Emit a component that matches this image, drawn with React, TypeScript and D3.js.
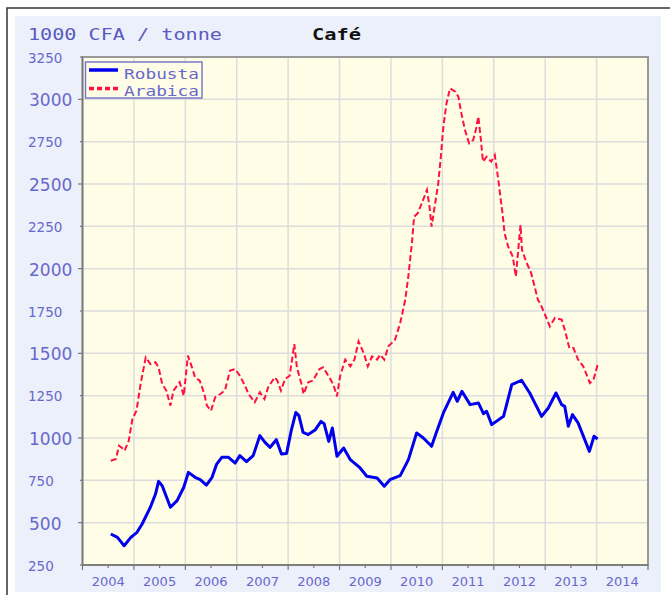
import React from "react";
import * as d3 from "d3";

const robustaT = [2004.55,2004.68,2004.81,2004.94,2005.06,2005.16,2005.32,2005.42,2005.48,2005.55,2005.71,2005.84,2005.97,2006.06,2006.19,2006.29,2006.41,2006.52,2006.61,2006.71,2006.84,2006.97,2007.06,2007.19,2007.32,2007.45,2007.55,2007.65,2007.77,2007.87,2007.97,2008.06,2008.15,2008.21,2008.29,2008.39,2008.53,2008.64,2008.70,2008.79,2008.86,2008.95,2009.08,2009.21,2009.40,2009.53,2009.73,2009.87,2009.98,2010.18,2010.34,2010.50,2010.63,2010.79,2010.89,2011.02,2011.21,2011.29,2011.38,2011.54,2011.70,2011.80,2011.86,2011.96,2012.19,2012.35,2012.54,2012.70,2012.93,2013.06,2013.21,2013.32,2013.38,2013.45,2013.53,2013.64,2013.86,2013.95,2014.02];
const robustaV = [433,413,364,413,443,492,591,669,744,718,591,630,709,797,768,754,722,768,846,886,886,852,896,860,896,1014,974,945,990,905,909,1043,1151,1132,1033,1020,1049,1098,1085,980,1059,892,941,872,823,774,764,715,754,778,872,1030,1000,951,1039,1148,1270,1217,1276,1197,1207,1144,1158,1079,1128,1315,1341,1266,1128,1177,1266,1197,1187,1069,1138,1089,921,1010,994];

const arabicaT = [2004.55,2004.65,2004.71,2004.77,2004.82,2004.90,2004.97,2005.05,2005.13,2005.23,2005.32,2005.42,2005.48,2005.55,2005.63,2005.71,2005.77,2005.89,2005.97,2006.05,2006.13,2006.19,2006.28,2006.37,2006.42,2006.50,2006.58,2006.68,2006.77,2006.87,2006.97,2007.06,2007.16,2007.23,2007.35,2007.45,2007.54,2007.61,2007.74,2007.79,2007.86,2007.94,2008.03,2008.12,2008.17,2008.26,2008.30,2008.39,2008.48,2008.61,2008.68,2008.79,2008.88,2008.95,2009.01,2009.11,2009.21,2009.29,2009.37,2009.47,2009.55,2009.63,2009.73,2009.79,2009.87,2009.95,2010.08,2010.18,2010.28,2010.34,2010.41,2010.45,2010.52,2010.60,2010.70,2010.75,2010.79,2010.86,2010.92,2010.97,2011.02,2011.08,2011.15,2011.25,2011.31,2011.37,2011.44,2011.52,2011.60,2011.65,2011.70,2011.75,2011.79,2011.86,2011.95,2012.02,2012.08,2012.17,2012.21,2012.28,2012.37,2012.43,2012.47,2012.52,2012.55,2012.63,2012.73,2012.86,2012.90,2013.01,2013.09,2013.19,2013.32,2013.38,2013.47,2013.55,2013.64,2013.74,2013.87,2013.94,2014.03];
const arabicaV = [866,876,955,941,925,984,1112,1161,1319,1476,1437,1447,1417,1319,1280,1191,1280,1329,1250,1486,1417,1358,1339,1260,1191,1161,1240,1260,1280,1398,1407,1368,1309,1260,1211,1270,1230,1299,1358,1339,1280,1348,1368,1555,1417,1319,1260,1329,1339,1407,1417,1364,1315,1246,1364,1463,1423,1463,1571,1502,1423,1482,1463,1492,1463,1541,1581,1679,1820,1960,2159,2307,2327,2386,2465,2366,2248,2386,2504,2661,2839,2976,3065,3045,3016,2917,2819,2740,2760,2819,2898,2760,2632,2661,2632,2671,2543,2327,2209,2130,2071,1953,2091,2258,2110,2041,1972,1815,1797,1719,1659,1709,1699,1640,1531,1531,1463,1423,1325,1344,1443];

const years = [2004,2005,2006,2007,2008,2009,2010,2011,2012,2013,2014];
const yTicks = [250,500,750,1000,1250,1500,1750,2000,2250,2500,2750,3000,3250];
const seriesNames = ["Robusta", "Arabica"];
const titleUnit = "1000 CFA / tonne";
const titleMain = "Café";

const L = 82.5, R = 648, T = 57, B = 565;
const labelColor = "#6868cc";

export default function App() {
  const x = d3.scaleLinear().domain([2004, 2015]).range([L, R]);
  const y = d3.scaleLinear().domain([250, 3250]).range([B, T]);
  const line = d3.line<[number, number]>().x(d => x(d[0])).y(d => y(d[1]));
  const rob = line(robustaT.map((t, i) => [t, robustaV[i]] as [number, number])) || "";
  const ara = line(arabicaT.map((t, i) => [t, arabicaV[i]] as [number, number])) || "";
  const minorX = years.map(yy => yy + 0.5);
  const majorX = [...years, 2015];

  return (
    <svg width={670} height={595} style={{ position: "absolute", left: 0, top: 0 }}>
      <rect x={0} y={0} width={670} height={595} fill="#ffffff" />
      <rect x={7} y={8} width={700} height={700} fill="#ffffff" stroke="#333" strokeWidth={1.5} />
      <rect x={15} y={16} width={646} height={576} fill="#ecf0fa" />
      <text x={28} y={40} fontFamily="'DejaVu Sans Mono', monospace" fontSize={15} fill="#5a5abf" textLength={194} lengthAdjust="spacingAndGlyphs">{titleUnit}</text>
      <text x={312} y={40} fontFamily="'DejaVu Sans Mono', monospace" fontSize={15.5} fontWeight="bold" fill="#111" textLength={49} lengthAdjust="spacingAndGlyphs">{titleMain}</text>

      <rect x={L} y={T} width={R - L} height={B - T} fill="#fffde6" />
      {yTicks.filter(v => v > 250 && v < 3250).map(v => (
        <line key={"gy" + v} x1={L} x2={R} y1={y(v)} y2={y(v)} stroke="#dddddd" strokeWidth={1.5} />
      ))}
      {years.slice(1).map(v => (
        <line key={"gx" + v} x1={x(v)} x2={x(v)} y1={T} y2={B} stroke="#dddddd" strokeWidth={1.5} />
      ))}
      <rect x={L} y={T} width={R - L} height={B - T} fill="none" stroke="#999" strokeWidth={2} />
      <line x1={L} x2={L} y1={T} y2={B} stroke="#777" strokeWidth={1.5} />
      <line x1={L} x2={R} y1={B} y2={B} stroke="#777" strokeWidth={1.5} />

      {yTicks.map(v => {
        const major = v % 500 === 0;
        return (
          <g key={"yt" + v}>
            <line x1={major ? L - 4.5 : L - 2.5} x2={L} y1={y(v)} y2={y(v)} stroke="#777" strokeWidth={1.2} />
            <text x={major ? 29 : 28} y={y(v) + (major ? 7 : 5.5)} fontFamily="'DejaVu Sans', sans-serif" fontSize={major ? 17 : 13.5} fill={labelColor}>{v}</text>
          </g>
        );
      })}
      {majorX.map(v => (
        <line key={"xt" + v} x1={x(v)} x2={x(v)} y1={B} y2={B + 5} stroke="#777" strokeWidth={1.2} />
      ))}
      {minorX.map(v => (
        <line key={"xm" + v} x1={x(v)} x2={x(v)} y1={B} y2={B + 3} stroke="#777" strokeWidth={1.2} />
      ))}
      {years.map(v => (
        <text key={"xl" + v} x={x(v + 0.5)} y={586} textAnchor="middle" fontFamily="'DejaVu Sans', sans-serif" fontSize={13} fill={labelColor}>{v}</text>
      ))}

      <path d={ara} fill="none" stroke="#ff1040" strokeWidth={2} strokeDasharray="6,3" />
      <path d={rob} fill="none" stroke="#0000ee" strokeWidth={3} strokeLinejoin="round" />

      <rect x={85.5} y={62} width={116.5} height={36} fill="#fffde6" stroke="#7a7acc" strokeWidth={1.5} />
      <line x1={89} x2={118} y1={70} y2={70} stroke="#0000ee" strokeWidth={3.5} />
      <line x1={89} x2={118} y1={88.5} y2={88.5} stroke="#ff1040" strokeWidth={3.5} strokeDasharray="5,3" />
      <text x={124} y={78.5} fontFamily="'DejaVu Sans Mono', monospace" fontSize={14} fill={labelColor} textLength={75} lengthAdjust="spacingAndGlyphs">{seriesNames[0]}</text>
      <text x={124} y={95.5} fontFamily="'DejaVu Sans Mono', monospace" fontSize={14} fill={labelColor} textLength={75} lengthAdjust="spacingAndGlyphs">{seriesNames[1]}</text>
    </svg>
  );
}
